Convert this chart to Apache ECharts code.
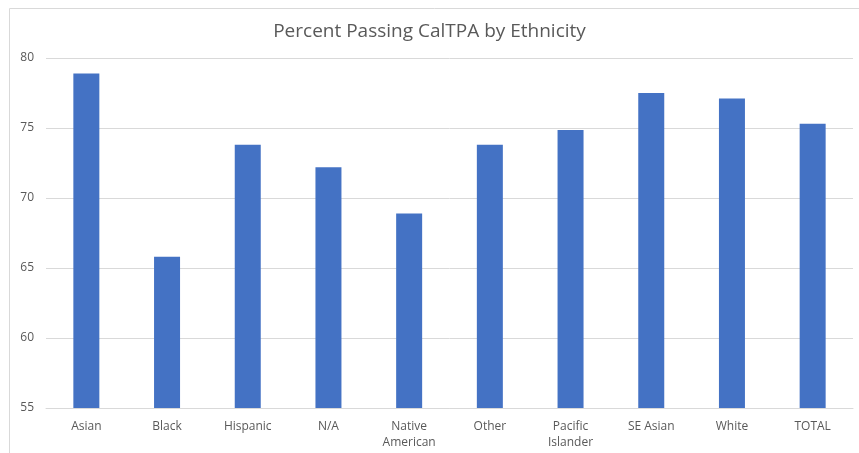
<!DOCTYPE html>
<html>
<head>
<meta charset="utf-8">
<script src="https://cdn.jsdelivr.net/npm/echarts@6/dist/echarts.min.js"></script>
<style>
  html, body { margin: 0; padding: 0; background: #fff; }
  #chart { width: 859px; height: 453px; }
</style>
</head>
<body>
<div id="chart"></div>
<script>
const categories = ['Asian', 'Black', 'Hispanic', 'N/A', 'Native\nAmerican', 'Other', 'Pacific\nIslander', 'SE Asian', 'White', 'TOTAL'];
const passRates = [78.9, 65.8, 73.8, 72.2, 68.9, 73.8, 74.85, 77.5, 77.1, 75.3];
const yTicks = { min: 55, max: 80, step: 5 };

const chart = echarts.init(document.getElementById('chart'));

let option = {
  animation: false,
  textStyle: { fontFamily: 'Open Sans' },
  title: {
    text: 'Percent Passing CalTPA by Ethnicity',
    left: 'center',
    top: 17,
    textStyle: {
      fontFamily: 'Open Sans',
      fontSize: 19,
      fontWeight: 'normal',
      color: '#595959'
    }
  },
  graphic: [
    {
      type: 'rect',
      shape: { x: 9.5, y: 8.5, width: 900, height: 500 },
      style: { fill: 'none', stroke: '#d9d9d9', lineWidth: 1 },
      silent: true
    }
  ],
  grid: {
    left: 46,
    right: 6,
    top: 58,
    bottom: 45
  },
  xAxis: {
    type: 'category',
    data: categories,
    axisTick: { show: false },
    axisLine: { lineStyle: { color: '#d9d9d9' } },
    axisLabel: {
      color: '#595959',
      fontSize: 12,
      lineHeight: 16,
      margin: 11,
      interval: 0
    }
  },
  yAxis: {
    type: 'value',
    min: yTicks.min,
    max: yTicks.max,
    interval: yTicks.step,
    axisLine: { show: false },
    axisTick: { show: false },
    axisLabel: {
      color: '#595959',
      fontSize: 12,
      margin: 12
    },
    splitLine: { lineStyle: { color: '#d9d9d9' } }
  },
  series: [
    {
      type: 'bar',
      data: passRates,
      barWidth: 26,
      itemStyle: { color: '#4472C4' }
    }
  ]
};

chart.setOption(option);
</script>
</body>
</html>
